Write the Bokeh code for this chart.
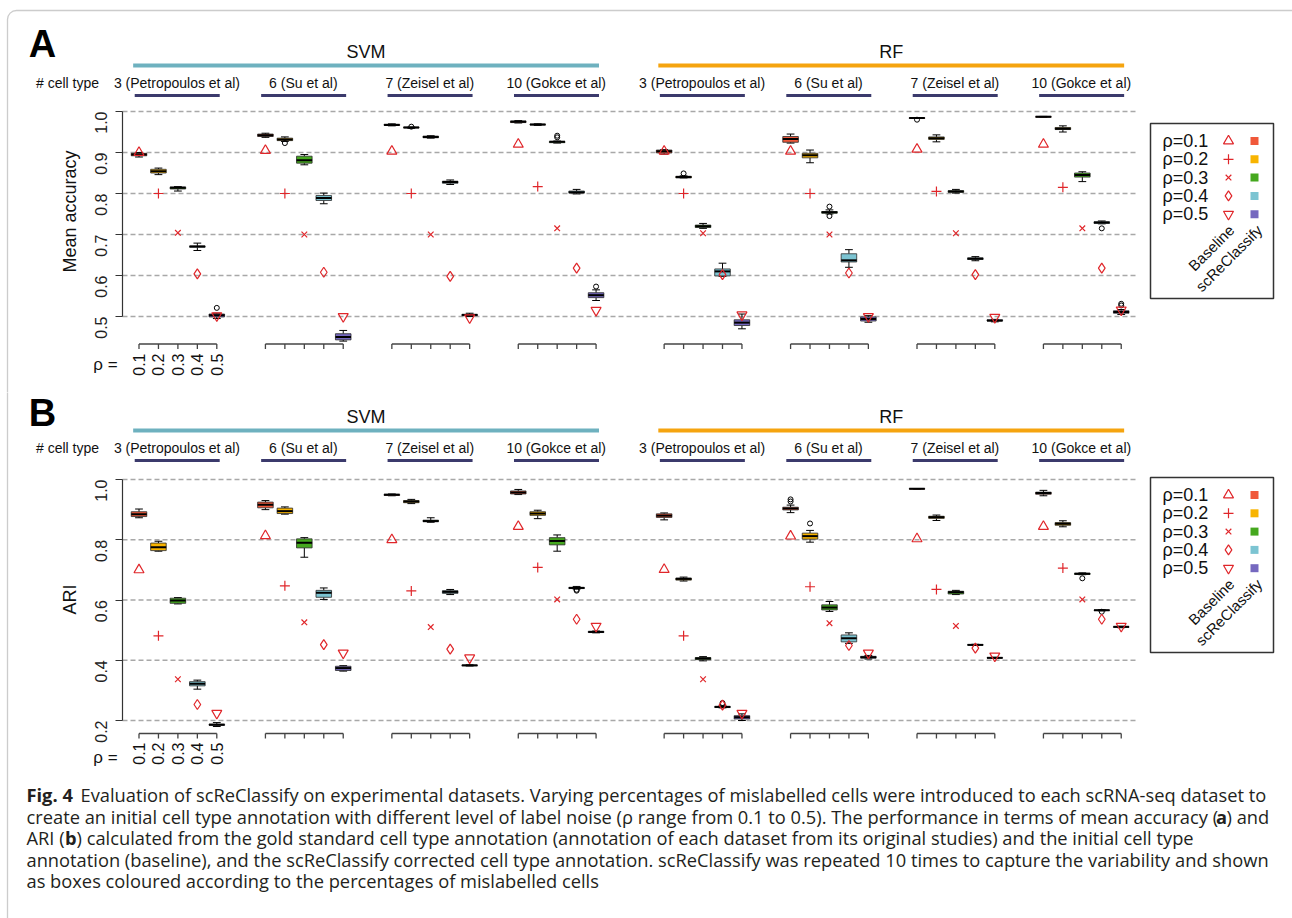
import math
from bokeh.plotting import figure
from bokeh.models import Range1d, FixedTicker, Label, BoxAnnotation, PrintfTickFormatter
from bokeh.layouts import column
from bokeh.embed import file_html
from bokeh.resources import INLINE

# ---------------------------------------------------------------- data
METHODS = ["SVM", "RF"]
DATASETS = ["3 (Petropoulos et al)", "6 (Su et al)", "7 (Zeisel et al)", "10 (Gokce et al)"]
RHO = ["0.1", "0.2", "0.3", "0.4", "0.5"]

# rows: SVM x 4 datasets, then RF x 4 datasets ; columns: rho = 0.1 .. 0.5
ACC_MED = [[0.895, 0.854, 0.814, 0.671, 0.503],
           [0.942, 0.932, 0.881, 0.789, 0.450],
           [0.967, 0.961, 0.938, 0.828, 0.504],
           [0.975, 0.968, 0.926, 0.803, 0.552],
           [0.903, 0.840, 0.720, 0.610, 0.485],
           [0.933, 0.893, 0.754, 0.637, 0.494],
           [0.984, 0.935, 0.805, 0.641, 0.490],
           [0.987, 0.958, 0.845, 0.729, 0.511]]
ACC_Q1 = [[0.892, 0.850, 0.811, 0.669, 0.499],
          [0.939, 0.929, 0.874, 0.783, 0.443],
          [0.966, 0.960, 0.936, 0.825, 0.502],
          [0.973, 0.967, 0.924, 0.801, 0.546],
          [0.899, 0.838, 0.717, 0.599, 0.478],
          [0.925, 0.887, 0.752, 0.633, 0.489],
          [0.983, 0.932, 0.803, 0.639, 0.489],
          [0.986, 0.956, 0.840, 0.727, 0.508]]
ACC_Q3 = [[0.898, 0.859, 0.816, 0.672, 0.506],
          [0.945, 0.935, 0.891, 0.795, 0.458],
          [0.969, 0.962, 0.940, 0.830, 0.505],
          [0.977, 0.969, 0.927, 0.806, 0.558],
          [0.906, 0.842, 0.723, 0.616, 0.492],
          [0.939, 0.898, 0.756, 0.653, 0.499],
          [0.985, 0.938, 0.807, 0.643, 0.492],
          [0.988, 0.961, 0.850, 0.731, 0.514]]
ACC_LO = [[0.889, 0.846, 0.806, 0.661, 0.495],
          [0.937, 0.927, 0.870, 0.775, 0.440],
          [0.965, 0.959, 0.935, 0.822, 0.500],
          [0.972, 0.966, 0.923, 0.799, 0.539],
          [0.896, 0.838, 0.715, 0.598, 0.470],
          [0.923, 0.875, 0.750, 0.620, 0.486],
          [0.983, 0.926, 0.801, 0.636, 0.487],
          [0.986, 0.950, 0.829, 0.726, 0.505]]
ACC_HI = [[0.900, 0.862, 0.817, 0.679, 0.508],
          [0.947, 0.938, 0.895, 0.801, 0.466],
          [0.970, 0.962, 0.941, 0.833, 0.508],
          [0.978, 0.970, 0.928, 0.810, 0.565],
          [0.907, 0.843, 0.727, 0.630, 0.506],
          [0.945, 0.906, 0.760, 0.663, 0.502],
          [0.985, 0.943, 0.810, 0.646, 0.493],
          [0.988, 0.965, 0.853, 0.733, 0.517]]
ACC_BASE = [[0.900, 0.800, 0.704, 0.604, 0.502],
            [0.905, 0.800, 0.700, 0.608, 0.500],
            [0.903, 0.800, 0.700, 0.598, 0.497],
            [0.920, 0.817, 0.715, 0.618, 0.515],
            [0.903, 0.800, 0.703, 0.602, 0.504],
            [0.903, 0.800, 0.700, 0.606, 0.500],
            [0.908, 0.805, 0.703, 0.602, 0.498],
            [0.920, 0.815, 0.715, 0.618, 0.516]]
# outliers: (row, rho index, value)
ACC_OUT = [(0, 4, 0.521), (1, 1, 0.923), (2, 1, 0.963), (3, 2, 0.937), (3, 2, 0.941),
           (3, 4, 0.573), (4, 1, 0.849), (5, 2, 0.768), (5, 2, 0.745), (6, 0, 0.980),
           (7, 3, 0.715), (7, 4, 0.527), (7, 4, 0.531)]
ACC_TICKS = [0.5, 0.6, 0.7, 0.8, 0.9, 1.0]

ARI_MED = [[0.885, 0.775, 0.598, 0.322, 0.186],
           [0.916, 0.895, 0.790, 0.624, 0.374],
           [0.949, 0.927, 0.862, 0.627, 0.383],
           [0.957, 0.887, 0.796, 0.640, 0.494],
           [0.880, 0.670, 0.406, 0.245, 0.211],
           [0.904, 0.812, 0.575, 0.473, 0.410],
           [0.969, 0.875, 0.626, 0.451, 0.408],
           [0.955, 0.853, 0.687, 0.566, 0.511]]
ARI_Q1 = [[0.877, 0.764, 0.589, 0.315, 0.184],
          [0.906, 0.887, 0.773, 0.609, 0.366],
          [0.947, 0.923, 0.860, 0.622, 0.382],
          [0.952, 0.881, 0.783, 0.638, 0.492],
          [0.874, 0.666, 0.402, 0.243, 0.205],
          [0.899, 0.802, 0.567, 0.461, 0.407],
          [0.968, 0.871, 0.620, 0.450, 0.407],
          [0.951, 0.848, 0.685, 0.565, 0.509]]
ARI_Q3 = [[0.893, 0.789, 0.606, 0.329, 0.188],
          [0.925, 0.905, 0.803, 0.632, 0.380],
          [0.951, 0.930, 0.865, 0.631, 0.384],
          [0.962, 0.893, 0.807, 0.642, 0.496],
          [0.886, 0.673, 0.409, 0.247, 0.216],
          [0.908, 0.822, 0.584, 0.484, 0.413],
          [0.970, 0.878, 0.629, 0.452, 0.409],
          [0.958, 0.857, 0.689, 0.567, 0.512]]
ARI_LO = [[0.873, 0.762, 0.587, 0.304, 0.180],
          [0.900, 0.885, 0.742, 0.602, 0.364],
          [0.946, 0.920, 0.858, 0.618, 0.381],
          [0.950, 0.870, 0.762, 0.636, 0.491],
          [0.866, 0.663, 0.398, 0.242, 0.200],
          [0.890, 0.792, 0.562, 0.456, 0.404],
          [0.968, 0.864, 0.618, 0.449, 0.406],
          [0.946, 0.843, 0.684, 0.564, 0.508]]
ARI_HI = [[0.902, 0.795, 0.608, 0.334, 0.193],
          [0.930, 0.909, 0.807, 0.640, 0.382],
          [0.952, 0.934, 0.873, 0.635, 0.385],
          [0.967, 0.898, 0.816, 0.645, 0.497],
          [0.889, 0.676, 0.412, 0.249, 0.222],
          [0.915, 0.831, 0.595, 0.491, 0.416],
          [0.970, 0.882, 0.632, 0.453, 0.410],
          [0.964, 0.863, 0.690, 0.568, 0.513]]
ARI_BASE = [[0.700, 0.481, 0.337, 0.253, 0.224],
            [0.813, 0.647, 0.526, 0.452, 0.424],
            [0.800, 0.630, 0.510, 0.437, 0.408],
            [0.844, 0.708, 0.602, 0.536, 0.513],
            [0.701, 0.481, 0.337, 0.251, 0.224],
            [0.812, 0.644, 0.523, 0.449, 0.424],
            [0.803, 0.635, 0.514, 0.440, 0.414],
            [0.844, 0.706, 0.602, 0.536, 0.513]]
ARI_OUT = [(3, 3, 0.634), (3, 3, 0.631), (4, 3, 0.258), (5, 0, 0.927), (5, 0, 0.934),
           (5, 1, 0.854), (7, 2, 0.672), (7, 3, 0.561)]
ARI_TICKS = [0.2, 0.4, 0.6, 0.8, 1.0]

CAPTION = [
    [("Fig. 4", True, 26), ("Evaluation of scReClassify on experimental datasets. Varying percentages of mislabelled cells were introduced to each scRNA-seq dataset to", False, 80)],
    [("create an initial cell type annotation with different level of label noise (\u03c1 range from 0.1 to 0.5). The performance in terms of mean accuracy (", False, 26), ("a", True, 1215.5), (") and", False, 1226)],
    [("ARI (", False, 26), ("b", True, 64.5), (") calculated from the gold standard cell type annotation (annotation of each dataset from its original studies) and the initial cell type", False, 76)],
    [("annotation (baseline), and the scReClassify corrected cell type annotation. scReClassify was repeated 10 times to capture the variability and shown", False, 26)],
    [("as boxes coloured according to the percentages of mislabelled cells", False, 26)],
]

# ---------------------------------------------------------------- style / layout
FONT = "Liberation Sans"
CAP_FONT = "Open Sans"
BOX_COLORS = ["#f0583a", "#f8b400", "#45a81e", "#7cc4d2", "#7568bf"]
BASE_COLOR = "#e0262a"
MARKERS = ["triangle", "cross", "x", "diamond", "inverted_triangle"]
MARK_SIZE = [10, 10, 8, 10, 10]
METHOD_COLORS = ["#6eb1bf", "#f5a40f"]
NAVY = "#3b3a6c"

PAGE_W = 1292
U0_PX, U_PX = 138.5, 19.45          # page x of first box, pixels per box slot
GROUP_X0 = [0, 6.5, 13, 19.5, 27, 33.5, 40, 46.5]
XMIN = (0 - U0_PX) / U_PX
XMAX = (PAGE_W - U0_PX) / U_PX
AXIS_X = (122 - U0_PX) / U_PX
GRID_END = (1135 - U0_PX) / U_PX
BOX_W = 0.8


def add_text(p, x, y, text, size, align="center", style="normal", angle=0.0,
             font=FONT, color="#111111", xr="px"):
    kw = dict(y_range_name="py")
    if xr:
        kw["x_range_name"] = xr
    p.add_layout(Label(x=x, y=y, text=text, text_font=font, text_font_size=size,
                       text_align=align, text_baseline="middle", text_font_style=style,
                       angle=angle, text_color=color, **kw))


def build(letter, ylab, page_top, height, y1px, scale, ticks, med, q1, q3, lo, hi,
          base, outs, L, caption=None):
    page_bottom = page_top + height
    ytop = 1 + (y1px - page_top) / scale
    ybot = 1 - (page_bottom - y1px) / scale
    p = figure(width=PAGE_W, height=height, x_range=Range1d(XMIN, XMAX),
               y_range=Range1d(ybot, ytop), output_backend="svg", toolbar_location=None,
               x_axis_location=None, min_border_left=0, min_border_right=0,
               min_border_top=0, min_border_bottom=0, min_border=0,
               outline_line_color=None,
               background_fill_color="white", border_fill_color="white")
    p.extra_x_ranges = {"px": Range1d(0, PAGE_W)}
    p.extra_y_ranges = {"py": Range1d(page_bottom, page_top)}
    p.grid.visible = False

    ax = p.yaxis[0]
    ax.fixed_location = AXIS_X
    ax.ticker = FixedTicker(ticks=ticks)
    ax.bounds = (ticks[0], ticks[-1])
    ax.formatter = PrintfTickFormatter(format="%.1f")
    ax.major_label_orientation = math.pi / 2
    ax.major_label_text_font = FONT
    ax.major_label_text_font_size = "16px"
    ax.major_label_text_color = "#222222"
    ax.major_label_standoff = 15
    ax.minor_tick_line_color = None
    ax.major_tick_out = 7
    ax.major_tick_in = 0
    ax.axis_line_color = "#333333"
    ax.axis_line_width = 1.2
    ax.major_tick_line_color = "#333333"
    ax.major_tick_line_width = 1.2

    # outer frame of the figure
    bkw = dict(left=7, right=1400, top=L["frame_top"], bottom=3000,
               x_range_name="px", y_range_name="py", fill_color=None,
               line_color="#555555", line_width=1.3)
    try:
        border = BoxAnnotation(border_radius=9, **bkw)
    except Exception:
        border = BoxAnnotation(**bkw)
    p.add_layout(border)

    # dashed reference lines
    p.segment(x0=[AXIS_X] * len(ticks), x1=[GRID_END] * len(ticks), y0=ticks, y1=ticks,
              line_color="#a8a8a8", line_dash="5 3", line_width=1.3)

    # boxes
    bx, cols, bm, bq1, bq3, blo, bhi = [], [], [], [], [], [], []
    for g in range(8):
        for r in range(5):
            bx.append(GROUP_X0[g] + r)
            cols.append(BOX_COLORS[r])
            bm.append(med[g][r]); bq1.append(q1[g][r]); bq3.append(q3[g][r])
            blo.append(lo[g][r]); bhi.append(hi[g][r])
    hw = BOX_W / 2
    p.segment(x0=bx, x1=bx, y0=bq3, y1=bhi, line_color="black", line_width=1)
    p.segment(x0=bx, x1=bx, y0=bq1, y1=blo, line_color="black", line_width=1)
    p.segment(x0=[x - hw / 2 for x in bx], x1=[x + hw / 2 for x in bx], y0=bhi, y1=bhi,
              line_color="black", line_width=1)
    p.segment(x0=[x - hw / 2 for x in bx], x1=[x + hw / 2 for x in bx], y0=blo, y1=blo,
              line_color="black", line_width=1)
    p.quad(left=[x - hw for x in bx], right=[x + hw for x in bx], bottom=bq1, top=bq3,
           fill_color=cols, line_color="#2b2b2b", line_width=0.8)
    p.segment(x0=[x - hw for x in bx], x1=[x + hw for x in bx], y0=bm, y1=bm,
              line_color="black", line_width=2)
    ox = [GROUP_X0[g] + r for g, r, v in outs]
    oy = [v for g, r, v in outs]
    p.scatter(ox, oy, marker="circle", size=5, fill_color=None, line_color="black",
              line_width=1)
    # baseline points
    for r in range(5):
        p.scatter([GROUP_X0[g] + r for g in range(8)], [base[g][r] for g in range(8)],
                  marker=MARKERS[r], size=MARK_SIZE[r], fill_color=None,
                  line_color=BASE_COLOR, line_width=1.2)

    # rho brackets under each dataset
    p.segment(x0=GROUP_X0, x1=[x + 4 for x in GROUP_X0], y0=[L["bracket"]] * 8,
              y1=[L["bracket"]] * 8, y_range_name="py", line_color="#444444", line_width=1.3)
    p.segment(x0=bx, x1=bx, y0=[L["bracket"]] * 40, y1=[L["bracket"] + 5] * 40,
              y_range_name="py", line_color="#444444", line_width=1.3)
    for r in range(5):
        add_text(p, GROUP_X0[0] + r, L["ticklab"], RHO[r], "16px", align="right",
                 angle=math.pi / 2, xr=None)
    add_text(p, 105, L["rho"], "\u03c1 =", "17px")

    # headers
    for m in range(2):
        x0 = GROUP_X0[4 * m] - 0.3
        x1 = GROUP_X0[4 * m + 3] + 4.15
        p.quad(left=[x0], right=[x1], top=[L["bar"] - 2], bottom=[L["bar"] + 2],
               y_range_name="py", fill_color=METHOD_COLORS[m], line_color=None)
        add_text(p, (x0 + x1) / 2, L["title"], METHODS[m], "18px", xr=None)
        for d in range(4):
            g = 4 * m + d
            p.quad(left=[GROUP_X0[g] - 0.22], right=[GROUP_X0[g] + 4.15],
                   top=[L["navy"] - 1.6], bottom=[L["navy"] + 1.6], y_range_name="py",
                   fill_color=NAVY, line_color=None)
            add_text(p, GROUP_X0[g] + 1.95, L["label"], DATASETS[d], "14px", xr=None)
    add_text(p, 67, L["label"], "# cell type", "14px")
    add_text(p, 42, L["letter"], letter, "38px", style="bold", color="black")
    add_text(p, 69, L["ylab"], ylab, "18px", angle=math.pi / 2)

    # legend
    lt = L["legend"]
    p.quad(left=[1150], right=[1273], top=[lt], bottom=[lt + 175], x_range_name="px",
           y_range_name="py", fill_color=None, line_color="#333333", line_width=1.5)
    for r in range(5):
        yy = lt + 17.5 + 18.3 * r
        add_text(p, 1162, yy, "\u03c1=" + RHO[r], "18px", align="left")
        p.scatter([1228], [yy], marker=MARKERS[r], size=MARK_SIZE[r], fill_color=None,
                  line_color=BASE_COLOR, line_width=1.2, x_range_name="px",
                  y_range_name="py")
        p.scatter([1254], [yy], marker="square", size=8, fill_color=BOX_COLORS[r],
                  line_color=None, x_range_name="px", y_range_name="py")
    for txt, x in (("Baseline", 1231), ("scReClassify", 1259)):
        p.add_layout(Label(x=x, y=lt + 104, text=txt, text_font=FONT,
                           text_font_size="15px", text_align="right",
                           text_baseline="middle", angle=math.pi / 4,
                           x_range_name="px", y_range_name="py", text_color="#111111"))

    if caption:
        for i, line in enumerate(caption):
            yy = 794 + 21.6 * i
            for txt, bold, x in line:
                add_text(p, x, yy, txt, "18.3px", align="left",
                         style="bold" if bold else "normal", font=CAP_FONT,
                         color="#231f20")
    return p


LA = dict(frame_top=10, letter=43, title=51.5, bar=65, label=82, navy=95, bracket=343.5,
          ticklab=353, rho=364, ylab=211, legend=123)
LB = dict(frame_top=-500, letter=412, title=416.5, bar=430, label=447.3, navy=460,
          bracket=733, ticklab=742, rho=757, ylab=599, legend=477)

pa = build("A", "Mean accuracy", 0, 392, 111, 410.0, ACC_TICKS, ACC_MED, ACC_Q1, ACC_Q3,
           ACC_LO, ACC_HI, ACC_BASE, ACC_OUT, LA)
pb = build("B", "ARI", 392, 526, 479, 301.25, ARI_TICKS, ARI_MED, ARI_Q1, ARI_Q3,
           ARI_LO, ARI_HI, ARI_BASE, ARI_OUT, LB, caption=CAPTION)

layout = column(pa, pb, spacing=0)
open("out.html", "w").write(file_html(layout, INLINE))
